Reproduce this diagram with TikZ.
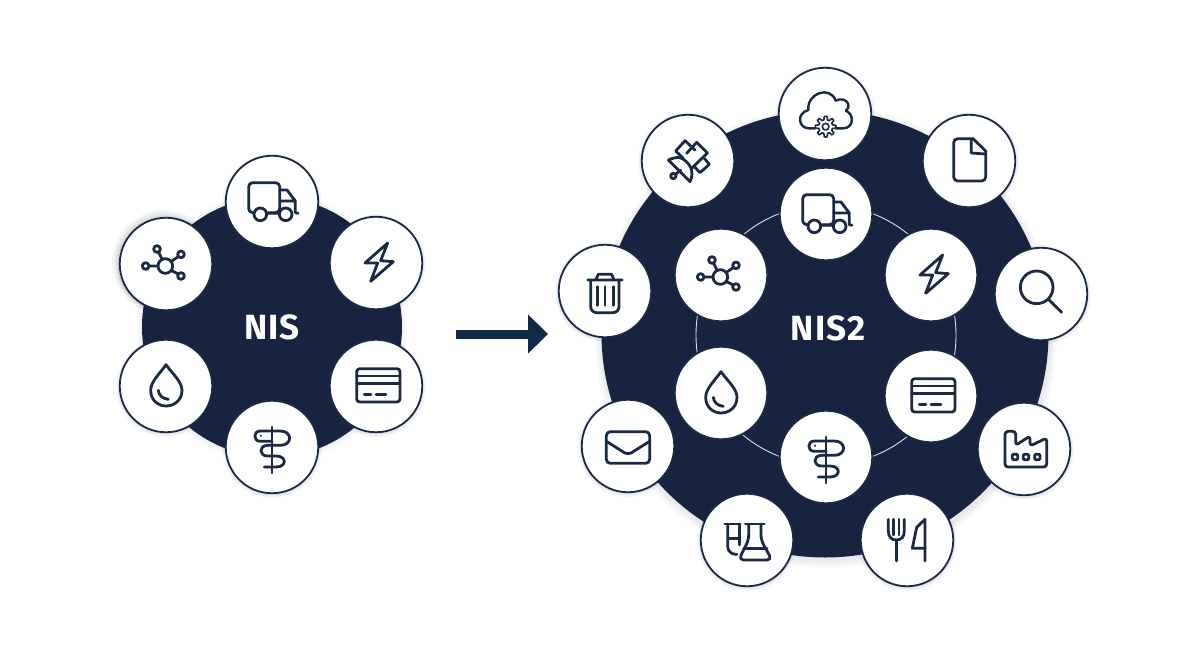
\documentclass[tikz,border=0pt]{standalone}
\usepackage{fontspec}
\setmainfont{Fira Sans}[LetterSpace=3]
\usetikzlibrary{arrows.meta}
\definecolor{navy}{HTML}{17233F}
\definecolor{ink}{HTML}{1A2A44}
\definecolor{arrowblue}{HTML}{0F2A47}
\tikzset{
  bigdisc/.style={circle,fill=navy,inner sep=0pt},
  disclabel/.style={inner sep=0pt,text=white,font=\bfseries\fontsize{35}{35}\selectfont},
  disc/.style={circle,fill=white,draw=ink,line width=1.8pt,minimum size=92.5pt,inner sep=0pt},
  ic/.style={draw=ink,line width=2.8pt,line join=round,line cap=round},
  ic-truck/.pic={\begin{scope}[scale=0.3333,shift={(-487,-158)}]
    \draw[ic,rounded corners=4pt] (430,190)--(417,190)--(417,100)--(510,100)--(510,190)--(475,190);
    \draw[ic] (510,122)--(532,122)--(557,155)--(557,190)--(565,192) (510,155)--(557,155) (475,192)--(505,192);
    \draw[ic] (452,195) circle (19) (528,195) circle (19);
  \end{scope}},
  ic-hub/.pic={\begin{scope}[scale=0.3333,shift={(-168,-342)}]
    \draw[ic] (166,348) circle (22) (141,297) circle (10) (213,313) circle (10) (213,378) circle (10) (107,348) circle (10);
    \draw[ic] (146,307)--(157,329) (205,320)--(184,334) (205,372)--(185,362) (117,348)--(144,348);
  \end{scope}},
  ic-zap/.pic={\begin{scope}[scale=0.3333,shift={(-798,-342)}]
    \draw[ic] (833,282)--(765,342)--(803,342)--(782,397)--(850,338)--(812,335)--cycle;
  \end{scope}},
  ic-card/.pic={\begin{scope}[scale=0.3333,shift={(-800,-182)}]
    \draw[ic,rounded corners=3pt] (742,130) rectangle (872,230);
    \draw[ic] (742,152)--(872,152) (742,175)--(872,175) (765,207)--(785,207) (800,207)--(830,207);
  \end{scope}},
  ic-drop/.pic={\begin{scope}[scale=0.3333,shift={(-168,-182)}]
    \draw[ic] (168,118) .. controls (152,142) and (122,168) .. (122,195) .. controls (122,225) and (145,242) .. (168,242) .. controls (192,242) and (216,225) .. (216,195) .. controls (216,168) and (184,142) .. (168,118) -- cycle;
    \draw[ic] (145,195) .. controls (146,210) and (158,220) .. (175,222);
  \end{scope}},
  ic-snake/.pic={\begin{scope}[scale=0.3333,shift={(-485,-365)}]
    \draw[ic] (485,305)--(485,443);
    \draw[ic] (485,348)--(450,348) .. controls (428,348) and (428,317) .. (450,317) -- (510,317) .. controls (547,317) and (547,360) .. (510,360) -- (472,360) .. controls (445,360) and (445,392) .. (472,392) -- (497,392) .. controls (530,392) and (530,425) .. (497,425) -- (462,425);
    \fill[ink] (452,331) circle (3.5);
  \end{scope}},
  ic-cloud/.pic={\begin{scope}[scale=0.3333,shift={(-585,-162)}]
    \draw[ic,line width=2.4pt] (555,205) -- (537,205) .. controls (505,205) and (498,160) .. (535,150) .. controls (530,100) and (600,75) .. (617,122) .. controls (645,108) and (668,135) .. (648,152) .. controls (675,165) and (670,205) .. (640,205) -- (618,205);
    \draw[ic,line width=1.6pt] plot[samples=49,domain=0:360] ({587+(26+5*sign(cos(8*\x)))*cos(\x)},{200+(26+5*sign(cos(8*\x)))*sin(\x)}) -- cycle;
    \draw[ic,line width=1.6pt] (587,200) circle (10);
  \end{scope}},
  ic-doc/.pic={\begin{scope}[scale=0.3333,shift={(-1018,-302)}]
    \draw[ic,rounded corners=4pt] (1030,235)--(972,235)--(972,362)--(1068,362)--(1068,272);
    \draw[ic] (1030,235)--(1068,272) (1025,237)--(1025,278)--(1066,281);
  \end{scope}},
  ic-sat/.pic={\begin{scope}[scale=0.3333,shift={(-114,-108)}]
    \draw[ic] (100,100)--(77,78)--(105,47)--(135,75);
    \draw[ic] (110,85)--(140,52)--(172,84)--(125,130);
    \draw[ic] (163,100)--(178,118)--(150,143)--(133,125);
    \draw[ic] (55,105)--(120,170) .. controls (135,140) and (120,110) .. (90,98) .. controls (80,96) and (65,100) .. (55,105);
    \draw[ic] (70,153) circle (8);
    \draw[ic] (78,147)--(92,135);
  \end{scope}},
  ic-search/.pic={\begin{scope}[scale=0.3333,shift={(-183,-162)}]
    \draw[ic] (170,142) circle (49);
    \draw[ic] (205,178)--(245,217);
  \end{scope}},
  ic-factory/.pic={\begin{scope}[scale=0.3333,shift={(-132,-631)}]
    \draw[ic,rounded corners=3pt] (75,685)--(75,578)--(107,578)--(107,620)--(150,592)--(150,622)--(200,598)--(200,685)--cycle;
    \draw[ic,rounded corners=1pt] (97,647) rectangle (113,663) (130,647) rectangle (146,663) (164,647) rectangle (180,663);
  \end{scope}},
  ic-trash/.pic={\begin{scope}[scale=0.3333,shift={(-165,-155)}]
    \draw[ic] (113,122)--(217,122) (137,122)--(145,105)--(185,105)--(192,122);
    \draw[ic,rounded corners=6pt] (122,122)--(122,220)--(207,220)--(207,122);
    \draw[ic] (142,142)--(142,198) (165,142)--(165,198) (190,142)--(190,198);
  \end{scope}},
  ic-mail/.pic={\begin{scope}[scale=0.3333,shift={(-235,-618)}]
    \draw[ic,rounded corners=4pt] (170,575) rectangle (300,670);
    \draw[ic,rounded corners=4pt] (172,605)--(235,645)--(298,605);
  \end{scope}},
  ic-flask/.pic={\begin{scope}[scale=0.3333,shift={(-155,-150)}]
    \draw[ic] (88,102)--(135,102) (150,102)--(207,102) (97,145)--(132,145) (145,175)--(215,175);
    \draw[ic,rounded corners=8pt] (97,102)--(97,193)--(125,193);
    \draw[ic] (133,102)--(133,165);
    \draw[ic,rounded corners=5pt] (160,102)--(160,150)--(130,210)--(230,210)--(197,150)--(197,102);
  \end{scope}},
  ic-fork/.pic={\begin{scope}[scale=0.3333,shift={(-636,-150)}]
    \draw[ic] (580,88)--(580,122) .. controls (580,142) and (590,150) .. (604,150) .. controls (618,150) and (628,142) .. (628,122)--(628,88);
    \draw[ic] (604,150)--(604,213) (596,88)--(596,135) (612,88)--(612,135);
    \draw[ic] (690,213)--(690,88)--(665,112)--(652,175)--(690,175);
  \end{scope}}
}
\begin{document}
\begin{tikzpicture}[x=1pt,y=-1pt]
\useasboundingbox (0,0) rectangle (1200,654);
% big discs with soft shadows
\foreach \r in {225,227,229,231} \fill[navy,opacity=.025] (826,337) circle (\r);
\foreach \r in {131,133,135} \fill[navy,opacity=.025] (272,328) circle (\r);
\node[bigdisc,minimum size=260pt] (nis) at (272,327) {};
\node[bigdisc,minimum size=447pt] (nistwo) at (825,334) {};
\node[circle,draw=white!85!navy,line width=.9pt,minimum size=260pt,inner sep=0pt] (ring) at (826,335) {};
\node[disclabel] (nislabel) at (272,327) {NIS};
\node[disclabel] (nistwolabel) at (828,328) {NIS2};
% connector
\coordinate (arrowstart) at (456,334);
\coordinate (arrowend) at (548,334);
\draw[arrowblue,line width=9pt,-{Triangle[length=20pt,width=38pt]}] (arrowstart)--(arrowend);
% disc shadows
\foreach \x/\y in {272/202,376/263,376/386,272/447,166/386,166/264,
  826/214,931/275,931/396,826/457,721/393,721/275,
  825/114,969/161,1041/294,1024/449,907/540,747/540,628/446,605/291,688/161}
  \foreach \r in {47,48,49,50} \fill[navy,opacity=.03] (\x,\y+1) circle (\r);
\foreach \r in {48,50,52} \fill[navy,opacity=.04] (164,262) circle (\r);
% discs
\node[disc] (truckA) at (272,202) {};
\node[disc] (zapA) at (376,263) {};
\node[disc] (cardA) at (376,386) {};
\node[disc] (snakeA) at (272,447) {};
\node[disc] (dropA) at (166,386) {};
\node[disc] (hubA) at (166,264) {};
\node[disc] (truckB) at (826,214) {};
\node[disc] (zapB) at (931,275) {};
\node[disc] (cardB) at (931,396) {};
\node[disc] (snakeB) at (826,457) {};
\node[disc] (dropB) at (721,393) {};
\node[disc] (hubB) at (721,275) {};
\node[disc] (cloud) at (825,114) {};
\node[disc] (doc) at (969,161) {};
\node[disc] (search) at (1041,294) {};
\node[disc] (factory) at (1024,449) {};
\node[disc] (fork) at (907,540) {};
\node[disc] (flask) at (747,540) {};
\node[disc] (mail) at (628,446) {};
\node[disc] (trash) at (605,291) {};
\node[disc] (sat) at (688,161) {};
% icons
\pic at (truckA) {ic-truck}; \pic at (zapA) {ic-zap}; \pic at (cardA) {ic-card};
\pic at (snakeA) {ic-snake}; \pic at (dropA) {ic-drop}; \pic at (hubA) {ic-hub};
\pic at (truckB) {ic-truck}; \pic at (zapB) {ic-zap}; \pic at (cardB) {ic-card};
\pic at (snakeB) {ic-snake}; \pic at (dropB) {ic-drop}; \pic at (hubB) {ic-hub};
\pic at (cloud) {ic-cloud}; \pic at (doc) {ic-doc}; \pic at (search) {ic-search};
\pic at (factory) {ic-factory}; \pic at (fork) {ic-fork}; \pic at (flask) {ic-flask};
\pic at (mail) {ic-mail}; \pic at (trash) {ic-trash}; \pic at (sat) {ic-sat};
\end{tikzpicture}
\end{document}
